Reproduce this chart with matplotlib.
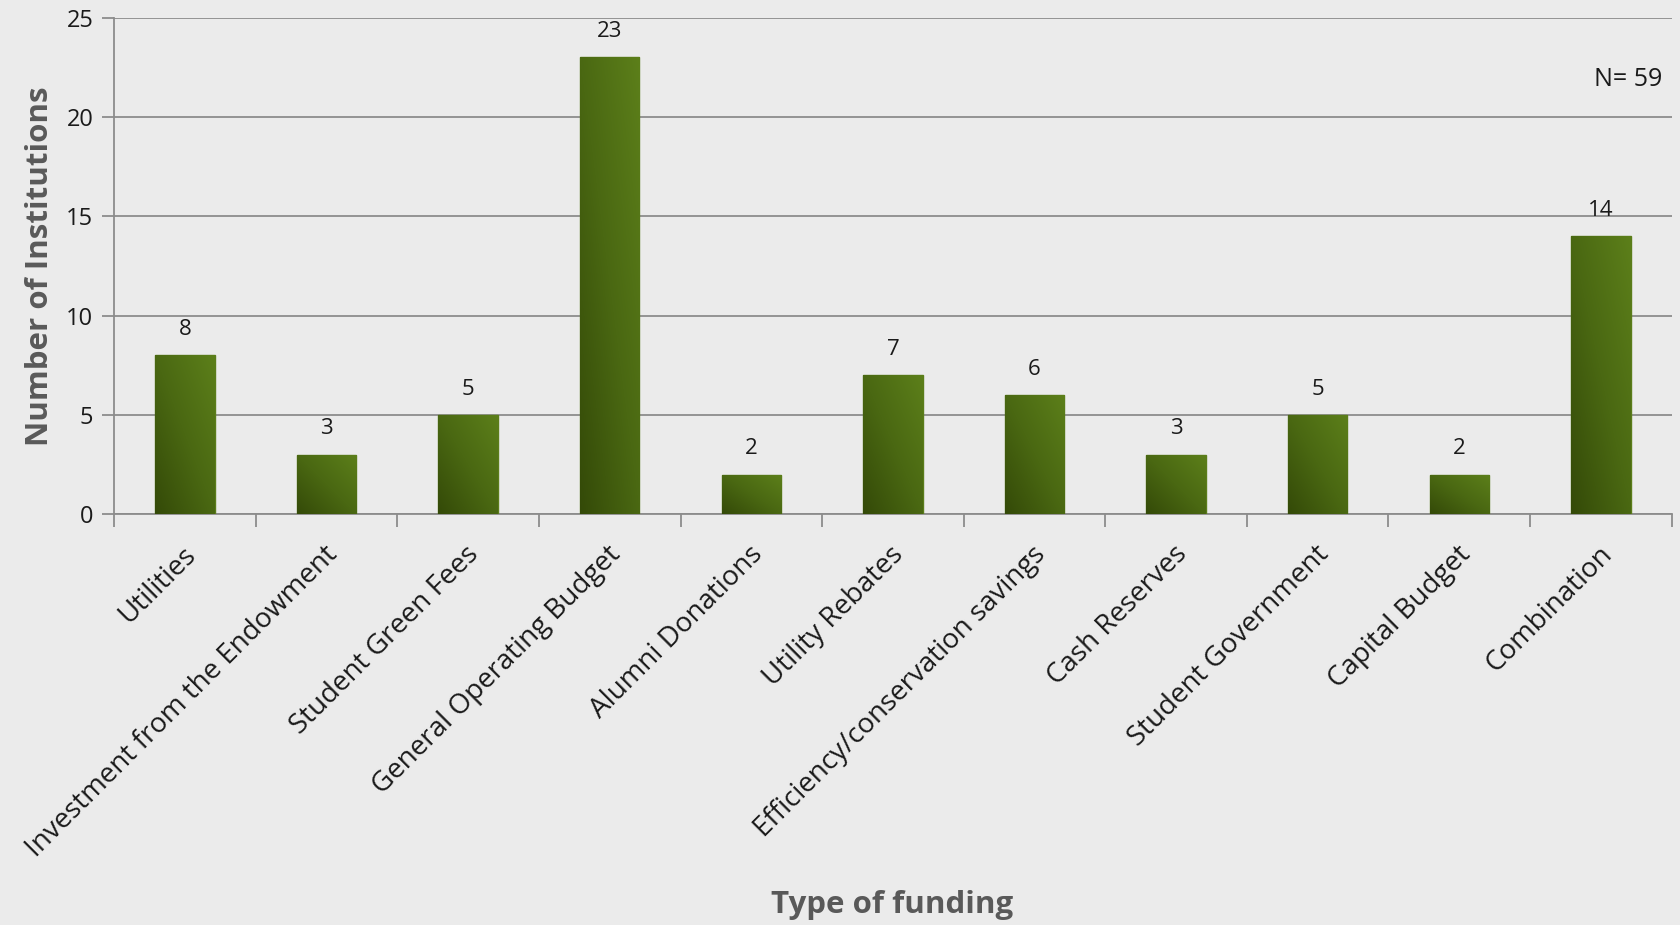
import numpy as np
import matplotlib.pyplot as plt
from matplotlib import transforms
from matplotlib.colors import LinearSegmentedColormap

# funding sources and how many institutions use each
categories = ["Utilities", "Investment from the Endowment", "Student Green Fees",
              "General Operating Budget", "Alumni Donations", "Utility Rebates",
              "Efficiency/conservation savings", "Cash Reserves", "Student Government",
              "Capital Budget", "Combination"]
counts = [8, 3, 5, 23, 2, 7, 6, 3, 5, 2, 14]
y_ticks = [0, 5, 10, 15, 20, 25]
n_total = 59

plt.rcParams['font.family'] = ['Open Sans', 'DejaVu Sans']

bg = '#ebebeb'
fig = plt.figure(figsize=(16.8, 9.25), dpi=100, facecolor=bg)
ax = fig.add_axes([0.068, 0.444, 0.927, 0.537])
ax.set_facecolor(bg)

x = np.arange(len(categories))
bars = ax.bar(x, counts, width=0.42, color='#4a6512', edgecolor='#5b7d1a',
              linewidth=1, zorder=3)

# gradient fill: dark bottom-left to lighter top-right
cmap = LinearSegmentedColormap.from_list('grn', ['#344a08', '#4a6812', '#5c7f1a'])
gy, gx = np.mgrid[0:1:100j, 0:1:100j]
grad = (gx + (1 - gy)) / 2
for b in bars:
    x0, w, h = b.get_x(), b.get_width(), b.get_height()
    im = ax.imshow(grad, cmap=cmap, extent=[x0, x0 + w, 0, h], origin='upper',
                   aspect='auto', zorder=3.5, interpolation='bilinear')
    im.set_clip_path(b)

for xi, v in zip(x, counts):
    ax.annotate(str(v), (xi, v), xytext=(0, 11), textcoords='offset points',
                ha='center', va='bottom', fontsize=16, color='#1a1a1a')

ax.set_xlim(-0.5, len(categories) - 0.5)
ax.set_ylim(0, 25)
ax.set_yticks(y_ticks)
ax.yaxis.grid(True, color='#8c8c8c', linewidth=1.3, zorder=0)
ax.set_axisbelow(True)

for s in ['top', 'right']:
    ax.spines[s].set_visible(False)
ax.spines['left'].set_color('#8c8c8c')
ax.spines['bottom'].set_color('#8c8c8c')
ax.spines['left'].set_linewidth(1.3)
ax.spines['bottom'].set_linewidth(1.3)

# tick marks at category boundaries
ax.set_xticks(np.arange(-0.5, len(categories) + 0.5, 1))
ax.set_xticklabels([])
ax.tick_params(axis='x', length=9, width=1.3, color='#8c8c8c')
ax.tick_params(axis='y', length=9, width=1.3, color='#8c8c8c', labelsize=17,
               labelcolor='#1a1a1a', pad=6)

offset = transforms.ScaledTranslation(5 / 72, -26 / 72, fig.dpi_scale_trans)
for xi, name in zip(x, categories):
    ax.text(xi, 0, name, rotation=45, ha='right', va='center',
            rotation_mode='anchor', fontsize=20, color='#1a1a1a',
            transform=ax.transData + offset)

ax.text(0.994, 0.875, "N= 59", transform=ax.transAxes, ha='right', va='center',
        fontsize=18, color='#1a1a1a')

ax.set_ylabel("Number of Institutions", fontsize=22.5, fontweight='bold',
              color='#595959', labelpad=8)
fig.text(0.531, 0.0216, "Type of funding", ha='center', va='center',
         fontsize=22.5, fontweight='bold', color='#595959')

fig.savefig('out.png', dpi=100, facecolor=bg)
